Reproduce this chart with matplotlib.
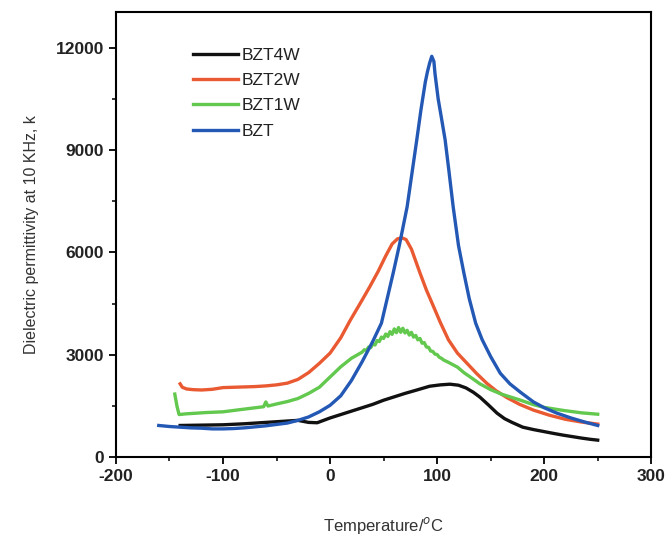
import matplotlib
matplotlib.use("Agg")
import matplotlib.pyplot as plt
from matplotlib.ticker import MultipleLocator

plt.rcParams['font.family'] = ['Liberation Sans', 'DejaVu Sans']
plt.rcParams['axes.unicode_minus'] = False

# BZT4W (black)
t_4w = [-140, -120, -100, -80, -60, -40, -30, -20, -12, 0, 10, 20, 30, 40, 50, 60, 70, 80, 93, 103, 112, 120, 127, 134, 140, 148, 156, 163, 170, 180, 190, 200, 210, 218, 228, 235, 243, 250]
v_4w = [930, 940, 950, 980, 1020, 1060, 1080, 1020, 1010, 1150, 1250, 1350, 1450, 1550, 1670, 1770, 1870, 1960, 2080, 2120, 2140, 2110, 2030, 1900, 1760, 1530, 1290, 1130, 1020, 880, 810, 750, 690, 645, 595, 560, 525, 500]

# BZT2W (red)
t_2w = [-140, -138, -134, -128, -120, -110, -100, -90, -80, -70, -60, -50, -40, -30, -20, -10, 0, 10, 19, 28, 37, 45, 52, 58, 63, 67, 71, 76, 84, 90, 96.6, 103, 110.6, 119, 128, 137, 146.6, 155, 165, 177, 190, 205, 220, 235, 250]
v_2w = [2150, 2050, 2000, 1980, 1970, 1990, 2040, 2050, 2060, 2070, 2090, 2120, 2170, 2280, 2480, 2750, 3050, 3500, 4020, 4500, 4990, 5450, 5900, 6250, 6400, 6430, 6380, 6100, 5400, 4900, 4420, 3950, 3440, 3050, 2750, 2450, 2160, 1950, 1750, 1550, 1380, 1230, 1110, 1030, 970]

# BZT1W (green)
t_1w = [-145, -143, -141, -135, -125, -115, -100, -80, -62, -60, -58, -50, -40, -30, -20, -10, 0, 10, 20,
        30, 32, 34, 36, 38, 40, 42, 44, 46, 48, 50, 52, 54, 56, 58, 60, 62, 64, 66, 68, 70,
        72, 74, 76, 78, 80, 82, 84, 86, 88, 90, 92, 94, 96, 98, 100, 102, 104, 106, 108, 110,
        119, 125, 131, 140, 150, 160, 170, 178, 190, 200, 218, 235, 250]
v_1w = [1850, 1500, 1250, 1270, 1290, 1310, 1330, 1410, 1480, 1620, 1500, 1560, 1630, 1720, 1870, 2050, 2350, 2650, 2900,
        3080, 3150, 3130, 3230, 3210, 3320, 3290, 3420, 3390, 3520, 3480, 3610, 3540, 3680, 3600, 3760, 3650, 3800, 3660, 3780, 3640,
        3720, 3580, 3660, 3520, 3570, 3440, 3480, 3340, 3360, 3230, 3220, 3110, 3100, 3020, 3010, 2930, 2900, 2850, 2820, 2790,
        2640, 2480, 2350, 2150, 1980, 1850, 1750, 1670, 1540, 1460, 1370, 1300, 1260]

# BZT (blue)
t_0 = [-160, -150, -140, -130, -120, -110, -100, -90, -80, -70, -60, -50, -40, -30, -20, -10, 0, 10, 20, 30, 40, 48, 59, 65, 72, 81, 85, 89, 91, 93, 95, 97, 98, 101, 104, 107.5, 111, 115, 120, 125, 130, 136, 142, 150, 159, 168, 178, 190, 200, 212, 225, 238, 250]
v_0 = [930, 900, 880, 860, 850, 830, 830, 840, 860, 890, 920, 960, 1000, 1080, 1180, 1330, 1520, 1800, 2250, 2800, 3400, 3930, 5400, 6250, 7340, 9300, 10200, 11000, 11300, 11550, 11750, 11600, 11250, 10500, 9950, 9300, 8400, 7340, 6200, 5400, 4650, 3930, 3450, 2950, 2460, 2150, 1900, 1620, 1450, 1290, 1150, 1030, 930]

labels = ['BZT4W', 'BZT2W', 'BZT1W', 'BZT']
colors = ['#111111', '#EA5A32', '#62C84E', '#2358B5']

fig = plt.figure(figsize=(6.7, 5.43), dpi=100)
ax = fig.add_axes([0.173, 0.158, 0.799, 0.82])

series = [(t_4w, v_4w), (t_2w, v_2w), (t_1w, v_1w), (t_0, v_0)]
for (t, v), lab, c in zip(series, labels, colors):
    ax.plot(t, v, color=c, lw=2.4, label=lab, solid_joinstyle='round')

ax.set_xlim(-200, 300)
ax.set_ylim(0, 13050)
ax.xaxis.set_major_locator(MultipleLocator(100))
ax.xaxis.set_minor_locator(MultipleLocator(50))
ax.yaxis.set_major_locator(MultipleLocator(3000))
ax.yaxis.set_minor_locator(MultipleLocator(1500))
ax.tick_params(which='major', direction='out', length=5, width=1.3, labelsize=12.5, top=False, right=False)
ax.tick_params(which='minor', direction='out', length=3, width=1.1, top=False, right=False)
for lab in ax.get_xticklabels() + ax.get_yticklabels():
    lab.set_fontweight('bold')
    lab.set_color('#222222')
for s in ax.spines.values():
    s.set_linewidth(1.5)

ax.set_xlabel('Temperature/$^o$C', fontsize=12, labelpad=22, color='#333333')
ax.set_ylabel('Dielectric permittivity at 10 KHz, k', fontsize=11.5, labelpad=12, color='#333333')

leg = ax.legend(loc='upper left', bbox_to_anchor=(0.131, 0.935), frameon=False, fontsize=12.5,
                handlelength=2.6, handletextpad=0.2, labelspacing=0.58, borderaxespad=0)
for t in leg.get_texts():
    t.set_color('#222222')

fig.savefig('out.png', dpi=100)
